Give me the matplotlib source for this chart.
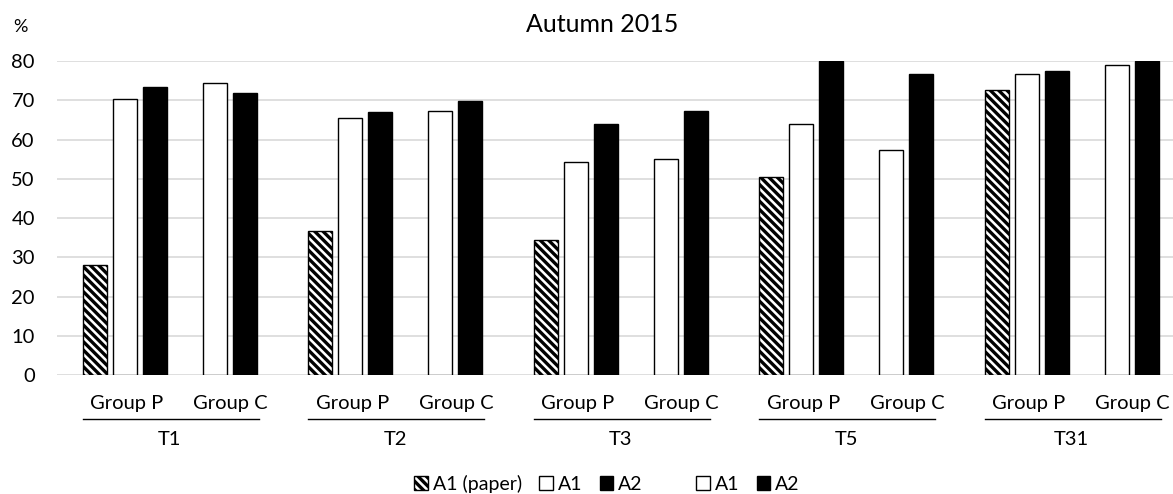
import numpy as np
import matplotlib.pyplot as plt

plt.rcParams['font.family'] = ['Lato', 'DejaVu Sans']
plt.rcParams['hatch.linewidth'] = 2.4

tests = ['T1', 'T2', 'T3', 'T5', 'T31']
groups = ['Group P', 'Group C']
a1_paper_p = [28.0, 36.7, 34.4, 50.4, 72.6]
a1_p = [70.3, 65.5, 54.3, 63.9, 76.7]
a2_p = [73.4, 67.1, 64.0, 80.0, 77.5]
a1_c = [74.3, 67.3, 55.0, 57.3, 79.0]
a2_c = [72.0, 69.8, 67.4, 76.6, 80.0]

x = np.arange(len(tests))
slot = 30 / 225.5
w = 24 / 225.5

fig = plt.figure(figsize=(11.73, 4.94), dpi=100)
ax = fig.add_axes([57 / 1173, 0.2403, 1 - 57 / 1173, 0.636])

series = [
    (a1_paper_p, 0, 'white', '\\\\\\\\', 'A1 (paper)'),
    (a1_p, 1, 'white', None, 'A1'),
    (a2_p, 2, 'black', None, 'A2'),
    (a1_c, 4, 'white', None, 'A1'),
    (a2_c, 5, 'black', None, 'A2'),
]
handles = []
for vals, s, col, hatch, lab in series:
    b = ax.bar(x + (s - 2.5) * slot, vals, width=w, color=col, edgecolor='black',
               linewidth=1.0, hatch=hatch, label=lab, zorder=3)
    handles.append(b)

ax.set_xlim(-0.5, -0.5 + 1116 / 225.5)
ax.set_ylim(0, 80)
ax.set_yticks(range(0, 81, 10))
ax.yaxis.grid(True, color='#d9d9d9', linewidth=1.2, zorder=0)
ax.set_axisbelow(True)
for sp in ax.spines.values():
    sp.set_visible(False)
ax.tick_params(axis='y', length=0, pad=16, labelsize=14.5)
ax.set_xticks([])

# two-level category labels
for i, t in enumerate(tests):
    ax.text(i - 43 / 225.5, -0.09, groups[0], transform=ax.get_xaxis_transform(),
            ha='center', va='center', fontsize=14.5)
    ax.text(i + 61 / 225.5, -0.09, groups[1], transform=ax.get_xaxis_transform(),
            ha='center', va='center', fontsize=14.5)
    ax.plot([i - 87 / 225.5, i + 89 / 225.5], [-0.138, -0.138], color='black',
            linewidth=1.0, transform=ax.get_xaxis_transform(), clip_on=False)
    ax.text(i, -0.205, t, transform=ax.get_xaxis_transform(),
            ha='center', va='center', fontsize=14.5)

fig.text(602 / 1173, 1 - 24 / 494, 'Autumn 2015', ha='center', va='center', fontsize=18)
fig.text(20 / 1173, 1 - 27 / 494, '%', ha='center', va='center', fontsize=13)

blank = plt.Rectangle((0, 0), 1, 1, fill=False, edgecolor='none', visible=False)
leg_h = handles[:3] + [blank] + handles[3:]
leg_l = ['A1 (paper)', 'A1', 'A2', '', 'A1', 'A2']
fig.legend(leg_h, leg_l, loc='center', bbox_to_anchor=(607 / 1173, 1 - 484 / 494),
           ncol=6, frameon=False, fontsize=14, handlelength=0.7, handleheight=0.7,
           handletextpad=0.25, columnspacing=0.9, borderpad=0)

fig.savefig('out.png', dpi=100)
